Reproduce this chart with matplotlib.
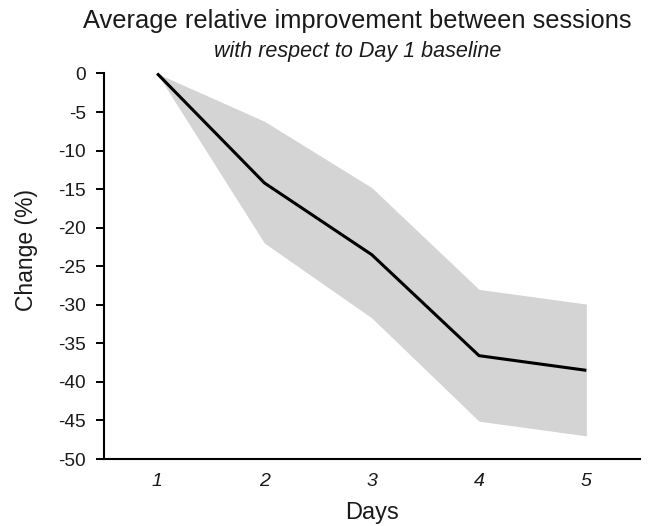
import matplotlib
matplotlib.use("Agg")
import matplotlib.pyplot as plt

days = [1, 2, 3, 4, 5]
mean_change = [0, -14.2, -23.5, -36.6, -38.5]
upper_band = [0, -6.2, -14.8, -28.0, -29.9]
lower_band = [0, -22.0, -31.7, -45.1, -47.0]
y_ticks = [0, -5, -10, -15, -20, -25, -30, -35, -40, -45, -50]

plt.rcParams['font.family'] = ['Liberation Sans', 'DejaVu Sans']
text_color = '#1a1a1a'

fig = plt.figure(figsize=(6.51, 5.26), dpi=100)
ax = fig.add_axes([103.5 / 651, 1 - 459 / 526, (640 - 103.5) / 651, (459 - 73.5) / 526])

ax.fill_between(days, lower_band, upper_band, color='#d4d4d4', linewidth=0)
ax.plot(days, mean_change, color='black', linewidth=2.2, clip_on=False, solid_capstyle='butt')

ax.set_xlim(0.5, 5.5)
ax.set_ylim(-50, 0)
ax.set_yticks(y_ticks)
ax.set_yticklabels([str(v) for v in y_ticks], fontsize=13.8, color=text_color)
ax.set_xticks(days)
ax.set_xticklabels([str(d) for d in days], fontsize=14, style='italic', color=text_color)

for s in ['top', 'right']:
    ax.spines[s].set_visible(False)
ax.spines['left'].set_linewidth(1.5)
ax.spines['bottom'].set_linewidth(1.5)
ax.tick_params(axis='y', length=5.8, width=1.4, pad=7)
ax.tick_params(axis='x', length=0, pad=10)

ax.set_xlabel('Days', fontsize=17, labelpad=9, color=text_color)
fig.text(26.5 / 651, 1 - 250 / 526, 'Change (%)', fontsize=16.5, rotation=90,
         ha='center', va='center', color=text_color)

fig.text(357.5 / 651, 1 - 28 / 526, 'Average relative improvement between sessions',
         fontsize=18.4, ha='center', va='baseline', color=text_color)
fig.text(358 / 651, 1 - 57 / 526, 'with respect to Day 1 baseline', fontsize=15.5,
         style='italic', ha='center', va='baseline', color=text_color)

fig.savefig('out.png', dpi=100)
